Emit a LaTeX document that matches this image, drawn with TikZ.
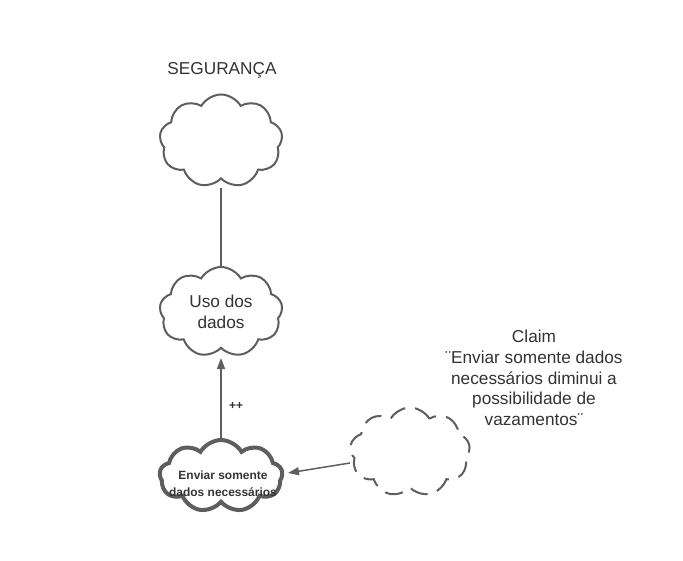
\documentclass[tikz,border=0pt]{standalone}
\usepackage{fontspec}
\setmainfont{Liberation Sans}
\usetikzlibrary{positioning, shapes.symbols, arrows.meta}
\definecolor{lineColor}{RGB}{94,94,94}
\definecolor{textColor}{RGB}{51,51,51}
\tikzstyle{cloudStyle} = [cloud, cloud puffs = 9, cloud puff arc = 120, draw = lineColor, line width = 2bp, inner sep = 0pt]
\tikzstyle{strongCloud} = [cloudStyle, line width = 4bp]
\tikzstyle{claimCloud} = [cloudStyle, dash pattern = on 18bp off 10bp]
\tikzstyle{linkLine} = [draw = lineColor, line width = 1.5bp]
\tikzstyle{linkArrow} = [linkLine, -{Triangle[length = 11bp, width = 8bp]}]
\tikzstyle{labelText} = [text = textColor, font = \fontsize{17.3}{20.8}\selectfont, align = center]
\tikzstyle{smallBold} = [text = textColor, font = \bfseries\fontsize{12}{17}\selectfont, align = center]
\begin{document}
\begin{tikzpicture}[x = 1bp, y = -1bp]
  \useasboundingbox (0,0) rectangle (683,561);
  % clouds
  \node [labelText] (titleText) at (222,70) {SEGURANÇA};
  \node [cloudStyle, minimum width = 123bp, minimum height = 93bp] (security) at (221,141) {};
  \node [cloudStyle, minimum width = 123bp, minimum height = 90bp] (dataUse) at (221,312) {};
  \node [labelText] (dataUseText) at (dataUse.center) {Uso dos\\dados};
  \node [strongCloud, minimum width = 123bp, minimum height = 72bp] (onlyNeeded) at (221,476) {};
  \node [smallBold] (onlyNeededText) at (223,484) {Enviar somente\\dados necessários};
  \node [claimCloud, minimum width = 120bp, minimum height = 89bp] (claim) at (410,452) {};
  \node [labelText] (claimText) at (534,378) {Claim\\¨Enviar somente dados\\necessários diminui a\\possibilidade de\\vazamentos¨};
  % links
  \coordinate (topLow) at (221,188);
  \coordinate (midHigh) at (221,268);
  \coordinate (midLow) at (221,358);
  \coordinate (lowHigh) at (221,440);
  \coordinate (claimLeft) at (350,463);
  \coordinate (lowRight) at (288,473);
  \draw [linkLine] (topLow) -- (midHigh);
  \draw [linkArrow] (lowHigh) -- node [smallBold, right = 4bp, pos = 0.42] {++} (midLow);
  \draw [linkArrow] (claimLeft) -- (lowRight);
\end{tikzpicture}
\end{document}
